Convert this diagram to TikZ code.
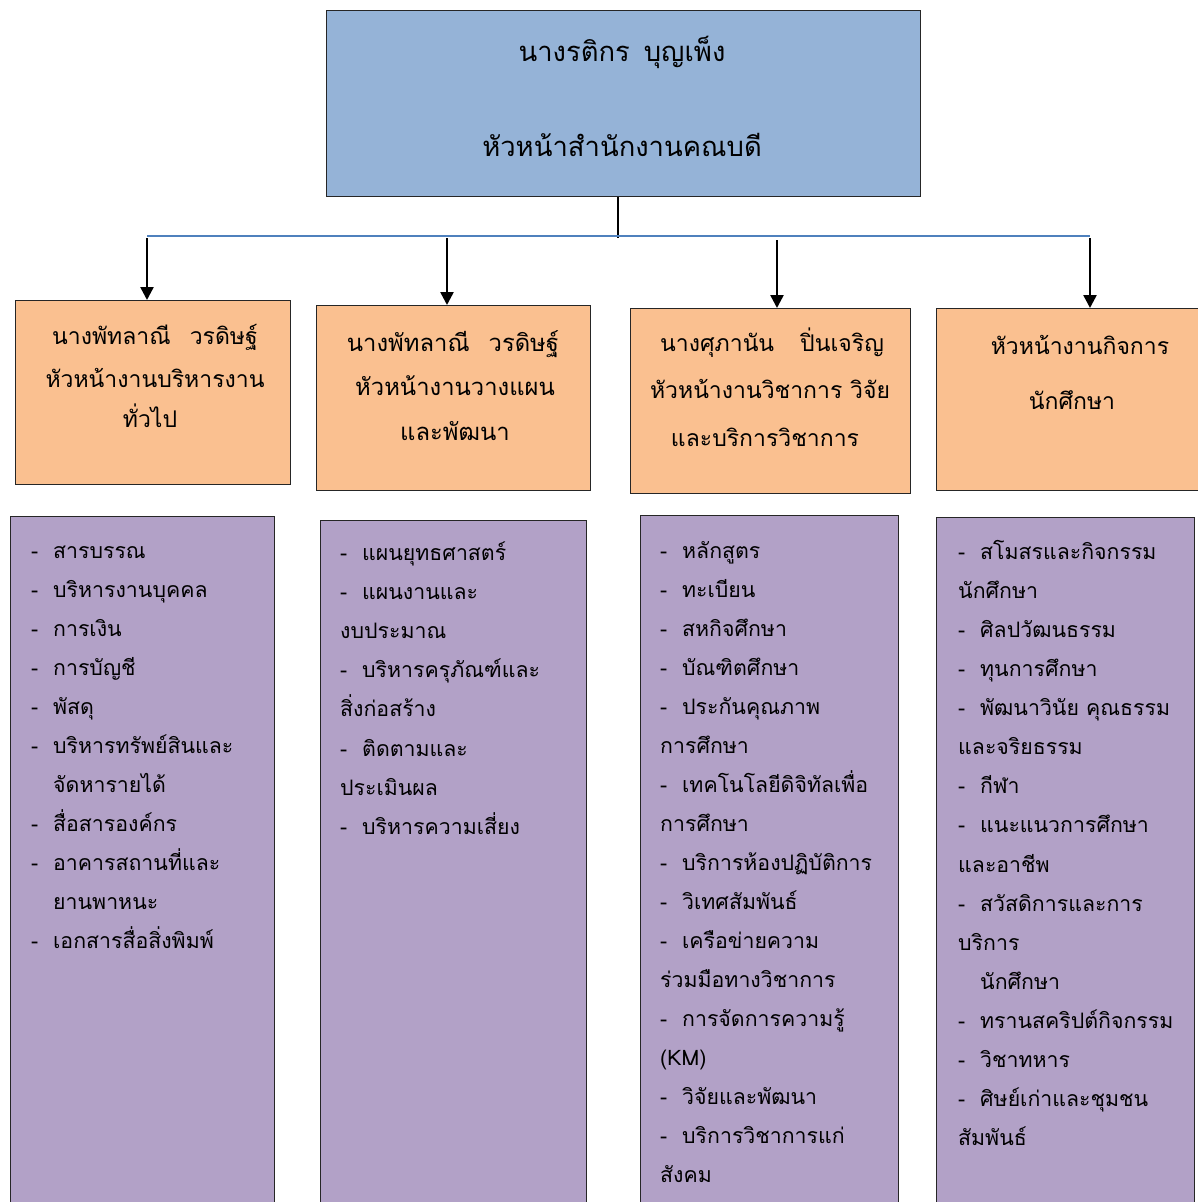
\documentclass[tikz,border=0pt]{standalone}
\usepackage{fontspec}
\newfontfamily\thai[Script=Thai]{Loma}
\usetikzlibrary{arrows.meta}
\definecolor{topblue}{HTML}{95B3D7}
\definecolor{headorange}{HTML}{FAC090}
\definecolor{listpurple}{HTML}{B2A1C7}
\definecolor{linkblue}{HTML}{4F81BD}
\newcommand{\itm}[1]{\makebox[22pt][l]{-}#1}
\tikzset{
  boxline/.style={draw=black!85, line width=1.3pt, anchor=north west, inner sep=0pt},
  topbox/.style={boxline, fill=topblue},
  headbox/.style={boxline, fill=headorange},
  listbox/.style={boxline, fill=listpurple},
  toptext/.style={font=\thai\fontsize{27.4}{30}\selectfont, anchor=base, inner sep=0pt},
  headtext/.style={font=\thai\fontsize{23}{26}\selectfont, anchor=base, inner sep=0pt},
  headtextwide/.style={font=\thai\fontsize{23.8}{26}\selectfont, anchor=base, inner sep=0pt},
  itemtext/.style={font=\thai\fontsize{21.3}{23}\selectfont, anchor=base west, inner sep=0pt},
  stem/.style={line width=1.5pt, black},
  hline/.style={line width=1.3pt, linkblue},
  arrow/.style={line width=2.5pt, -{Triangle[width=13pt,length=13pt]}}
}
\begin{document}
\begin{tikzpicture}[x=1pt,y=-1pt]
\useasboundingbox (0,0) rectangle (1198,1202);
\clip (0,0) rectangle (1198,1202);
\fill[white] (0,0) rectangle (1198,1202);
% top box
\node[topbox, minimum width=594pt, minimum height=186pt] (top) at (326,10) {};
\node[toptext] (topl1) at (622,61) {นางรติกร\hspace{14pt}บุญเพ็ง};
\node[toptext] (topl2) at (622,156) {หัวหน้าสำนักงานคณบดี};
% header boxes
\node[headbox, minimum width=275pt, minimum height=184pt] (h1) at (15,300) {};
\node[headbox, minimum width=274pt, minimum height=185pt] (h2) at (316,305) {};
\node[headbox, minimum width=280pt, minimum height=185pt] (h3) at (630,308) {};
\node[headbox, minimum width=265pt, minimum height=182pt] (h4) at (936,308) {};
\node[headtext] (h1l1) at (155,344) {นางพัทลาณี\hspace{19pt}วรดิษฐ์};
\node[headtext] (h1l2) at (155,387) {หัวหน้างานบริหารงาน};
\node[headtext] (h1l3) at (150,427) {ทั่วไป};
\node[headtextwide] (h2l1) at (453,351) {นางพัทลาณี\hspace{19pt}วรดิษฐ์};
\node[headtextwide] (h2l2) at (455,395) {หัวหน้างานวางแผน};
\node[headtextwide] (h2l3) at (455,440) {และพัฒนา};
\node[headtext] (h3l1) at (772,351) {นางศุภานัน\hspace{26pt}ปิ่นเจริญ};
\node[headtext] (h3l2) at (770,398) {หัวหน้างานวิชาการ วิจัย};
\node[headtext] (h3l3) at (765,446) {และบริการวิชาการ};
\node[headtext] (h4l1) at (1080,354) {หัวหน้างานกิจการ};
\node[headtext] (h4l2) at (1072,409) {นักศึกษา};
% connectors
\coordinate (stemend) at (618,238);
\coordinate (hl) at (147,236);
\coordinate (hr) at (1090,236);
\draw[stem] (top.south -| stemend) -- (stemend);
\draw[hline] (hl) -- (hr);
\coordinate (a1) at (147,238);
\coordinate (a2) at (447,238);
\coordinate (a3) at (777,240);
\coordinate (a4) at (1090,238);
\draw[arrow] (a1) -- (a1 |- h1.north);
\draw[arrow] (a2) -- (a2 |- h2.north);
\draw[arrow] (a3) -- (a3 |- h3.north);
\draw[arrow] (a4) -- (a4 |- h4.north);
% list boxes
\node[listbox, minimum width=264pt, minimum height=720pt] (p1) at (10,516) {};
\node[listbox, minimum width=266pt, minimum height=720pt] (p2) at (320,520) {};
\node[listbox, minimum width=258pt, minimum height=720pt] (p3) at (640,515) {};
\node[listbox, minimum width=258pt, minimum height=720pt] (p4) at (936,517) {};
% list 1
\foreach \x/\t [count=\i from 0] in {
  31/{\itm{สารบรรณ}},
  31/{\itm{บริหารงานบุคคล}},
  31/{\itm{การเงิน}},
  31/{\itm{การบัญชี}},
  31/{\itm{พัสดุ}},
  31/{\itm{บริหารทรัพย์สินและ}},
  53/{จัดหารายได้},
  31/{\itm{สื่อสารองค์กร}},
  31/{\itm{อาคารสถานที่และ}},
  53/{ยานพาหนะ},
  31/{\itm{เอกสารสื่อสิ่งพิมพ์}}}
  \node[itemtext] (p1-\i) at (\x,558+39*\i) {\t};
% list 2
\foreach \x/\t [count=\i from 0] in {
  340/{\itm{แผนยุทธศาสตร์}},
  340/{\itm{แผนงานและ}},
  340/{งบประมาณ},
  340/{\itm{บริหารครุภัณฑ์และ}},
  340/{สิ่งก่อสร้าง},
  340/{\itm{ติดตามและ}},
  340/{ประเมินผล},
  340/{\itm{บริหารความเสี่ยง}}}
  \node[itemtext] (p2-\i) at (\x,560+39.2*\i) {\t};
% list 3
\foreach \x/\t [count=\i from 0] in {
  660/{\itm{หลักสูตร}},
  660/{\itm{ทะเบียน}},
  660/{\itm{สหกิจศึกษา}},
  660/{\itm{บัณฑิตศึกษา}},
  660/{\itm{ประกันคุณภาพ}},
  660/{การศึกษา},
  660/{\itm{เทคโนโลยีดิจิทัลเพื่อ}},
  660/{การศึกษา},
  660/{\itm{บริการห้องปฏิบัติการ}},
  660/{\itm{วิเทศสัมพันธ์}},
  660/{\itm{เครือข่ายความ}},
  660/{ร่วมมือทางวิชาการ},
  660/{\itm{การจัดการความรู้}},
  660/{(KM)},
  660/{\itm{วิจัยและพัฒนา}},
  660/{\itm{บริการวิชาการแก่}},
  660/{สังคม}}
  \node[itemtext] (p3-\i) at (\x,558+39.06*\i) {\t};
% list 4
\foreach \x/\t [count=\i from 0] in {
  958/{\itm{สโมสรและกิจกรรม}},
  958/{นักศึกษา},
  958/{\itm{ศิลปวัฒนธรรม}},
  958/{\itm{ทุนการศึกษา}},
  958/{\itm{พัฒนาวินัย คุณธรรม}},
  958/{และจริยธรรม},
  958/{\itm{กีฬา}},
  958/{\itm{แนะแนวการศึกษา}},
  958/{และอาชีพ},
  958/{\itm{สวัสดิการและการ}},
  958/{บริการ},
  980/{นักศึกษา},
  958/{\itm{ทรานสคริปต์กิจกรรม}},
  958/{\itm{วิชาทหาร}},
  958/{\itm{ศิษย์เก่าและชุมชน}},
  958/{สัมพันธ์}}
  \node[itemtext] (p4-\i) at (\x,559+39.13*\i) {\t};
\end{tikzpicture}
\end{document}
